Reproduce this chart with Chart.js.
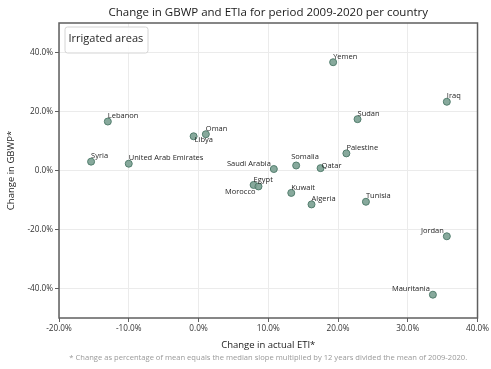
<!DOCTYPE html>
<html>
<head>
<meta charset="utf-8">
<script src="https://cdn.jsdelivr.net/npm/chart.js@4/dist/chart.umd.min.js"></script>
<style>
  html, body { margin: 0; padding: 0; background: #ffffff; }
  canvas { display: block; }
</style>
</head>
<body>
<canvas id="chart" width="491" height="369"></canvas>
<script>
// Change in ETIa (x) and GBWP (y), 2009-2020, irrigated areas, percent
const countries = ['Lebanon', 'Oman', 'Libya', 'Syria', 'United Arab Emirates', 'Yemen', 'Iraq',
  'Sudan', 'Palestine', 'Somalia', 'Saudi Arabia', 'Qatar', 'Egypt', 'Morocco', 'Kuwait',
  'Algeria', 'Tunisia', 'Jordan', 'Mauritania'];
const etiChange  = [-13.0, 1.05, -0.7, -15.4, -10.0, 19.3, 35.6, 22.8, 21.2, 14.0, 10.8, 17.5,
  7.9, 8.6, 13.3, 16.2, 24.0, 35.6, 33.6];
const gbwpChange = [16.6, 12.3, 11.6, 3.0, 2.3, 36.7, 23.3, 17.4, 5.8, 1.7, 0.5, 0.8,
  -4.9, -5.4, -7.6, -11.5, -10.6, -22.3, -42.1];
const xTicks = [-20, -10, 0, 10, 20, 30, 40];
const yTicks = [-40, -20, 0, 20, 40];

const chartTitle = 'Change in GBWP and ETIa for period 2009-2020 per country';
const legendTitle = 'Irrigated areas';
const footnote = '* Change as percentage of mean equals the median slope multiplied by 12 years divided the mean of 2009-2020.';

// where each country name sits relative to its marker
const labelSide = {
  'Libya': 'se', 'Saudi Arabia': 'nw', 'Jordan': 'nw', 'Mauritania': 'nw',
  'Morocco': 'sw', 'Somalia': 'n', 'Qatar': 'e'
};

const FONT = '"Open Sans", "Noto Sans", sans-serif';

const points = countries.map((c, i) => ({ x: etiChange[i], y: gbwpChange[i], name: c }));

const decorations = {
  id: 'decorations',
  beforeDatasetsDraw(chart) {
    const { ctx, chartArea: a } = chart;
    ctx.save();
    ctx.strokeStyle = '#5f5f5f';
    ctx.lineWidth = 1.5;
    ctx.strokeRect(a.left, a.top, a.right - a.left, a.bottom - a.top);
    ctx.restore();
  },
  afterDatasetsDraw(chart) {
    const { ctx, chartArea: a, scales } = chart;
    ctx.save();
    // country names
    ctx.font = '7.5px ' + FONT;
    ctx.fillStyle = '#262626';
    ctx.textBaseline = 'middle';
    points.forEach(p => {
      const px = scales.x.getPixelForValue(p.x);
      const py = scales.y.getPixelForValue(p.y);
      const side = labelSide[p.name] || 'ne';
      let tx = px, ty = py - 5.5, align = 'left';
      if (side === 'se') { tx = px + 1; ty = py + 3.5; }
      else if (side === 'nw') { tx = px - 3; align = 'right'; }
      else if (side === 'sw') { tx = px - 3; ty = py + 5; align = 'right'; }
      else if (side === 'n') { tx = px - 5; ty = py - 8.5; }
      else if (side === 'e') { tx = px + 1; ty = py - 2; }
      ctx.textAlign = align;
      ctx.fillText(p.name, tx, ty);
    });

    // legend box
    const bx = a.left + 6, by = a.top + 4, bw = 83, bh = 26;
    ctx.beginPath();
    ctx.roundRect(bx, by, bw, bh, 2.5);
    ctx.fillStyle = 'rgba(255,255,255,0.85)';
    ctx.fill();
    ctx.strokeStyle = '#d4d4d4';
    ctx.lineWidth = 1;
    ctx.stroke();
    ctx.font = '11px ' + FONT;
    ctx.fillStyle = '#262626';
    ctx.textAlign = 'left';
    ctx.textBaseline = 'middle';
    ctx.fillText(legendTitle, bx + 3.5, by + 12);

    // chart title, centred over the plot
    ctx.font = '11.5px ' + FONT;
    ctx.textAlign = 'center';
    ctx.fillStyle = '#1a1a1a';
    ctx.fillText(chartTitle, (a.left + a.right) / 2, 13);

    // footnote
    ctx.font = '7.6px ' + FONT;
    ctx.fillStyle = '#999999';
    ctx.fillText(footnote, (a.left + a.right) / 2, 358);
    ctx.restore();
  }
};

new Chart(document.getElementById('chart'), {
  type: 'scatter',
  data: {
    datasets: [{
      data: points,
      backgroundColor: 'rgba(122,160,145,0.9)',
      borderColor: '#527d6d',
      borderWidth: 1,
      pointRadius: 3.5,
      pointHoverRadius: 3.5
    }]
  },
  options: {
    responsive: false,
    devicePixelRatio: 1,
    animation: false,
    layout: { padding: { top: 23, right: 11, bottom: 0, left: 0 } },
    plugins: {
      legend: { display: false },
      title: { display: false },
      tooltip: { enabled: false }
    },
    scales: {
      x: {
        type: 'linear',
        min: -20, max: 40,
        afterBuildTicks: s => { s.ticks = xTicks.map(v => ({ value: v })); },
        afterFit: s => { s.height = 51; },
        grid: { color: '#ebebeb', lineWidth: 1, tickLength: 4, tickColor: '#5f5f5f', tickWidth: 1 },
        border: { display: false },
        ticks: {
          padding: 2,
          color: '#333333',
          font: { family: FONT, size: 8.2 },
          callback: v => v.toFixed(1) + '%',
          maxRotation: 0
        },
        title: {
          display: true,
          text: 'Change in actual ETI*',
          color: '#1a1a1a',
          font: { family: FONT, size: 9.5 },
          padding: { top: 0, bottom: 18 }
        }
      },
      y: {
        type: 'linear',
        min: -50, max: 50,
        afterBuildTicks: s => { s.ticks = yTicks.map(v => ({ value: v })); },
        afterFit: s => { s.width = 59; },
        grid: { color: '#ebebeb', lineWidth: 1, tickLength: 4, tickColor: '#5f5f5f', tickWidth: 1 },
        border: { display: false },
        ticks: {
          padding: 2,
          color: '#333333',
          font: { family: FONT, size: 8.2 },
          callback: v => v.toFixed(1) + '%'
        },
        title: {
          display: true,
          text: 'Change in GBWP*',
          color: '#1a1a1a',
          font: { family: FONT, size: 9.5 },
          padding: { top: 6, bottom: 0 }
        }
      }
    }
  },
  plugins: [decorations]
});
</script>
</body>
</html>
